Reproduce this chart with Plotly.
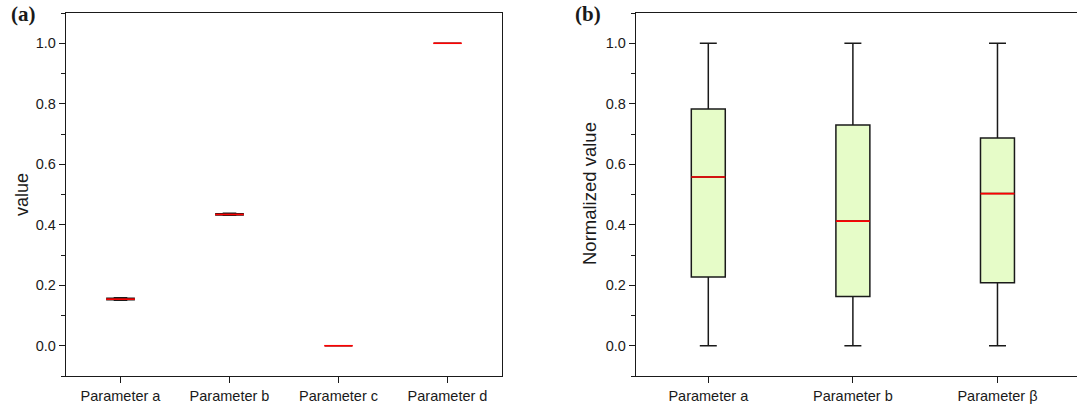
import plotly.graph_objects as go

# ---------------- data ----------------
cats_a = ["Parameter a", "Parameter b", "Parameter c", "Parameter d"]
a_min = [0.150, 0.431, 0.0, 1.0]
a_q1 = [0.152, 0.432, 0.0, 1.0]
a_med = [0.154, 0.434, 0.0, 1.0]
a_q3 = [0.157, 0.436, 0.0, 1.0]
a_max = [0.159, 0.438, 0.0, 1.0]

cats_b = ["Parameter a", "Parameter b", "Parameter β"]
b_min = [0.0, 0.0, 0.0]
b_q1 = [0.227, 0.163, 0.208]
b_med = [0.558, 0.412, 0.503]
b_q3 = [0.783, 0.730, 0.687]
b_max = [1.0, 1.0, 1.0]

yticks = [0.0, 0.2, 0.4, 0.6, 0.8, 1.0]
ytick_text = ["0.0", "0.2", "0.4", "0.6", "0.8", "1.0"]

# ---------------- style ----------------
W, H = 1077, 405
FONT = "Liberation Sans, Arial, sans-serif"
LINE = "#1a1a1a"
FILL = "#e6fcc8"
RED = "#ff0000"
BOXW_A = 0.25
BOXW_B = 0.235

fig = go.Figure()

xa = list(range(len(cats_a)))
xb = list(range(len(cats_b)))

fig.add_trace(go.Box(
    x=xa, q1=a_q1, median=a_med, q3=a_q3, lowerfence=a_min, upperfence=a_max,
    width=BOXW_A, whiskerwidth=0.5, fillcolor=FILL,
    line=dict(color=LINE, width=1.5), boxpoints=False,
    xaxis="x", yaxis="y", showlegend=False, hoverinfo="skip"))

fig.add_trace(go.Box(
    x=xb, q1=b_q1, median=b_med, q3=b_q3, lowerfence=b_min, upperfence=b_max,
    width=BOXW_B, whiskerwidth=0.5, fillcolor=FILL,
    line=dict(color=LINE, width=1.5), boxpoints=False,
    xaxis="x2", yaxis="y2", showlegend=False, hoverinfo="skip"))


def median_segments(xs, meds, w):
    sx, sy = [], []
    for x, m in zip(xs, meds):
        sx += [x - w / 2, x + w / 2, None]
        sy += [m, m, None]
    return sx, sy


mx, my = median_segments(xa, a_med, BOXW_A * 1.05)
fig.add_trace(go.Scatter(x=mx, y=my, mode="lines", line=dict(color=RED, width=1.6),
                         xaxis="x", yaxis="y", showlegend=False, hoverinfo="skip"))
mx, my = median_segments(xb, b_med, BOXW_B)
fig.add_trace(go.Scatter(x=mx, y=my, mode="lines", line=dict(color=RED, width=1.6),
                         xaxis="x2", yaxis="y2", showlegend=False, hoverinfo="skip"))

ydom = [(H - 376) / H, (H - 13) / H]

common_y = dict(
    range=[-0.1, 1.1], tickvals=yticks, ticktext=ytick_text,
    ticks="outside", ticklen=6, tickwidth=1.3, tickcolor=LINE,
    minor=dict(dtick=0.1, tick0=0, ticks="outside", ticklen=3.5, tickwidth=1.3, tickcolor=LINE),
    showline=True, linecolor=LINE, linewidth=1.4, showgrid=False, zeroline=False,
    tickfont=dict(family=FONT, size=14.5, color="#1a1a1a"), automargin=False,
    domain=ydom,
)
common_x = dict(
    ticks="outside", ticklen=6, tickwidth=1.3, tickcolor=LINE,
    showline=True, linecolor=LINE, linewidth=1.4, showgrid=False, zeroline=False,
    tickfont=dict(family=FONT, size=14.5, color="#1a1a1a"), automargin=False,
)

fig.update_layout(
    width=W, height=H,
    margin=dict(l=0, r=0, t=0, b=0),
    paper_bgcolor="white", plot_bgcolor="white",
    xaxis=dict(common_x, domain=[66 / W, 502 / W], range=[-0.5, 3.5],
               tickvals=xa, ticktext=cats_a, mirror=True, anchor="y"),
    yaxis=dict(common_y, mirror=True, anchor="x"),
    xaxis2=dict(common_x, domain=[636 / W, 1.0], range=[-0.5, 2.55],
                tickvals=xb, ticktext=cats_b, mirror=True, anchor="y2"),
    yaxis2=dict(common_y, mirror=False, anchor="x2"),
    annotations=[
        dict(text="value", x=22 / W, y=(H - 195) / H, xref="paper", yref="paper",
             textangle=-90, showarrow=False, xanchor="center", yanchor="middle",
             font=dict(family=FONT, size=18, color="#1a1a1a")),
        dict(text="Normalized value", x=590 / W, y=(H - 194) / H, xref="paper", yref="paper",
             textangle=-90, showarrow=False, xanchor="center", yanchor="middle",
             font=dict(family=FONT, size=18.5, color="#1a1a1a")),
        dict(text="<b>(a)</b>", x=23.5 / W, y=(H - 14) / H, xref="paper", yref="paper",
             showarrow=False, xanchor="center", yanchor="middle",
             font=dict(family="Liberation Serif, Times New Roman, serif", size=21, color="#1a1a1a")),
        dict(text="<b>(b)</b>", x=588 / W, y=(H - 14) / H, xref="paper", yref="paper",
             showarrow=False, xanchor="center", yanchor="middle",
             font=dict(family="Liberation Serif, Times New Roman, serif", size=21, color="#1a1a1a")),
    ],
)

fig.write_html("out.html", config={"displayModeBar": False},
               post_script="document.body.style.margin='0';document.body.style.overflow='hidden';")
